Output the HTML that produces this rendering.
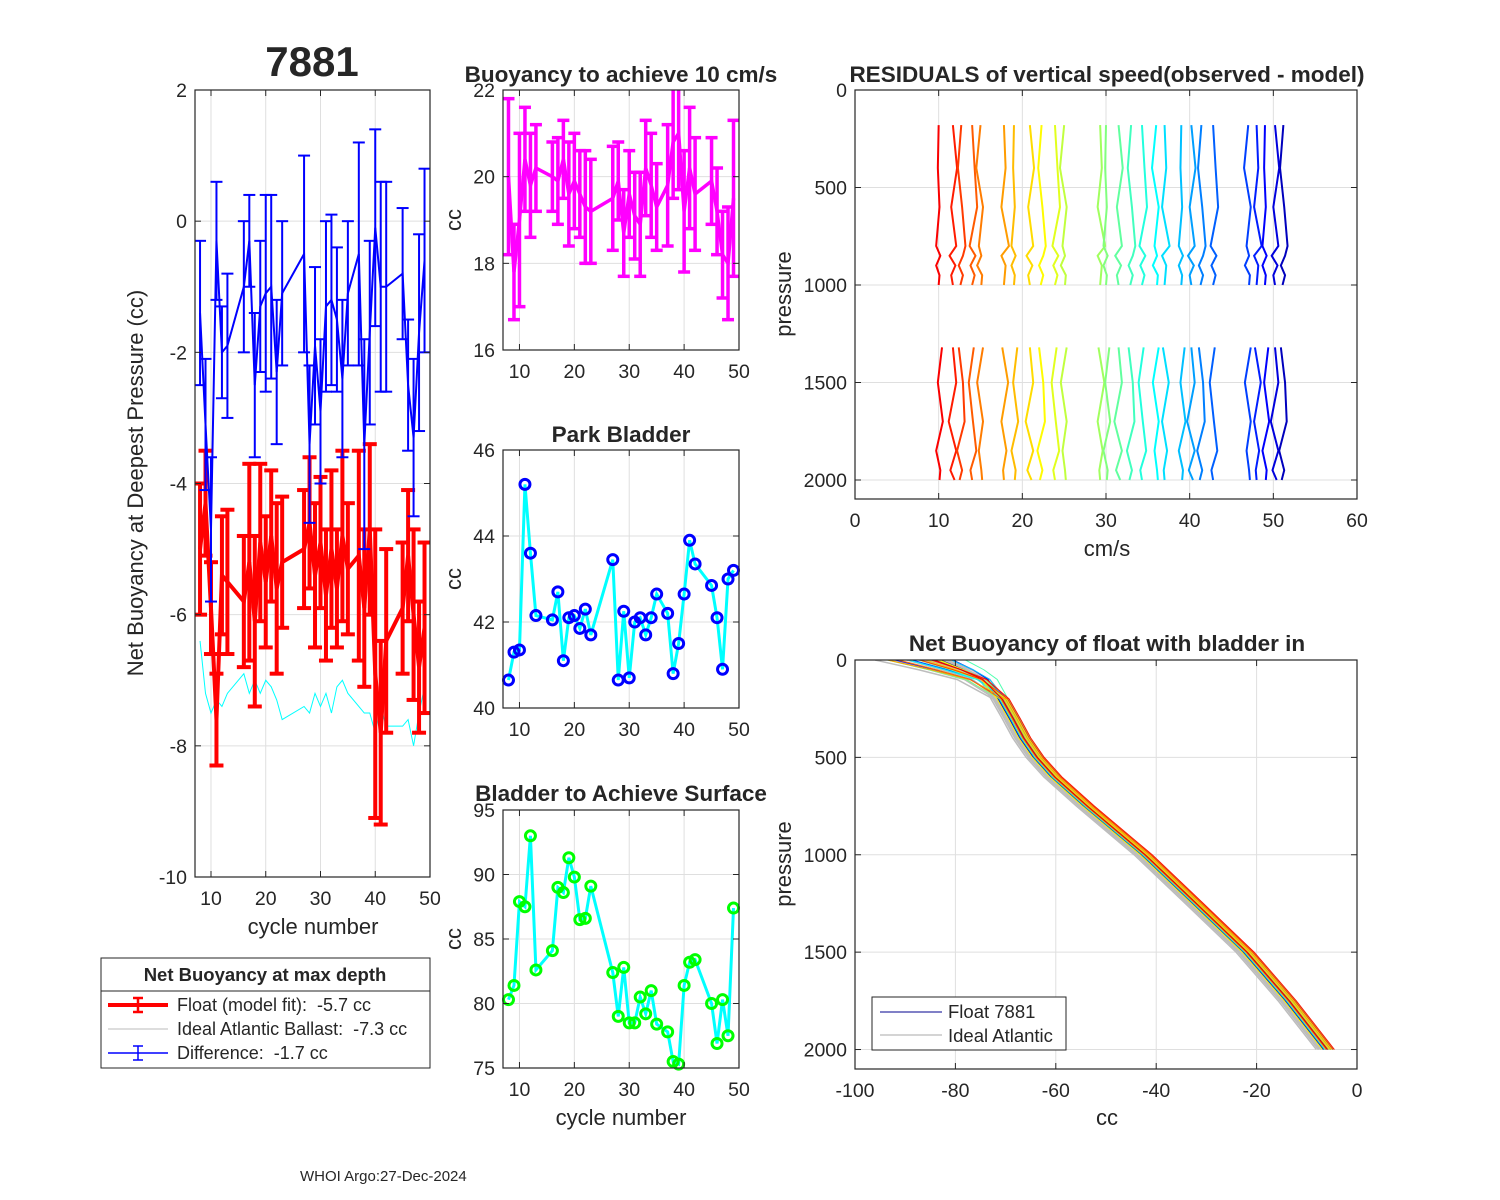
<!DOCTYPE html>
<html><head><meta charset="utf-8"><style>
body{margin:0;background:#fff}
svg{display:block}
text{font-family:"Liberation Sans",Arial,sans-serif;white-space:pre}
</style></head><body>
<svg id="s" width="1500" height="1200" viewBox="0 0 1500 1200" xmlns="http://www.w3.org/2000/svg"></svg>
<script>
// ---------- data ----------
const cycles=[8,9,10,11,12,13,16,17,18,19,20,21,22,23,27,28,29,30,31,32,33,34,35,37,38,39,40,41,42,45,46,47,48,49];
const floatFit=[-5.0,-4.3,-5.9,-7.6,-5.4,-5.5,-5.8,-5.2,-6.1,-4.9,-5.5,-4.8,-5.6,-5.2,-5.0,-4.6,-5.4,-4.9,-5.7,-5.0,-5.6,-4.8,-5.3,-5.1,-5.9,-4.7,-6.9,-7.8,-6.4,-5.9,-5.1,-6.0,-6.8,-6.2];
const floatErr=[1.0,0.8,0.7,0.7,0.9,1.1,1.0,1.5,1.3,1.2,1.0,1.0,1.3,1.0,0.9,1.0,1.1,1.0,1.0,1.2,0.9,1.3,1.0,1.6,1.2,1.3,2.2,1.4,1.4,1.0,1.0,1.3,1.0,1.3];
const diffVal=[-1.4,-3.1,-4.7,-0.3,-2.0,-1.9,-1.0,-0.3,-2.5,-1.3,-1.1,-1.0,-2.3,-1.1,-0.5,-3.4,-1.9,-2.9,-1.3,-1.2,-1.5,-2.4,-1.1,-0.5,-3.4,-1.7,-0.1,-1.0,-1.0,-0.8,-2.5,-3.3,-1.7,-0.6];
const diffErr=[1.1,1.0,1.1,0.9,0.7,1.1,1.0,0.7,1.1,1.0,1.5,1.4,1.1,1.1,1.5,1.2,1.2,1.1,1.3,1.3,1.1,1.2,1.1,1.7,1.6,1.4,1.5,1.6,1.6,1.0,1.0,1.2,1.5,1.4];
const idealVal=[-6.4,-7.2,-7.5,-7.3,-7.4,-7.2,-6.9,-7.2,-7.0,-7.2,-7.0,-7.1,-7.3,-7.6,-7.4,-7.5,-7.2,-7.4,-7.2,-7.5,-7.1,-7.0,-7.2,-7.4,-7.5,-7.5,-7.8,-7.4,-7.7,-7.7,-7.6,-8.0,-7.5,-7.1];
const buoy10=[20.0,17.8,19.0,20.4,19.8,20.2,20.0,19.9,20.4,19.6,19.9,19.6,19.3,19.2,19.5,19.9,18.7,19.6,19.1,18.9,20.2,19.8,19.3,19.8,20.8,21.0,19.2,20.2,19.6,19.9,19.2,18.2,18.0,19.5];
const buoy10Err=[1.8,1.1,2.0,1.2,1.2,1.0,0.8,1.0,0.9,1.2,1.1,1.0,1.3,1.2,1.2,0.9,1.0,1.0,1.0,1.2,1.1,1.2,1.0,1.4,1.3,1.3,1.4,1.4,1.3,1.0,1.0,1.0,1.3,1.8];
const parkBladder=[40.65,41.3,41.35,45.2,43.6,42.15,42.05,42.7,41.1,42.1,42.15,41.85,42.3,41.7,43.45,40.65,42.25,40.7,42.0,42.1,41.7,42.1,42.65,42.2,40.8,41.5,42.65,43.9,43.35,42.85,42.1,40.9,43.0,43.2];
const surfBladder=[80.3,81.4,87.9,87.5,93.0,82.6,84.1,89.0,88.6,91.3,89.8,86.5,86.6,89.1,82.4,79.0,82.8,78.5,78.5,80.5,79.2,81.0,78.4,77.8,75.5,75.3,81.4,83.2,83.4,80.0,76.9,80.3,77.5,87.4];
// residual profiles
const resCenters=[10,11.7,12.7,14,15,17.8,19,20.9,22.3,23.9,25,29.3,30,31.5,33,34.3,36,37,39,40.2,41.4,42.8,47,48,49,50.2,51.2];
const resTopP=[180,400,600,800,850,900,950,1000];
const resBotP=[1320,1500,1700,1850,1950,2000];
const wiggleTop=[[0,-0.1,0.1,-0.3,0.2,-0.3,0.1,0],[0,0.5,-0.2,0.4,-0.4,0.3,-0.2,0],[0,-0.4,0.1,0.5,0.2,-0.3,0.2,-0.1],[0,0.3,0.6,-0.3,0.4,-0.2,0.3,0],[0,-0.5,0.3,-0.2,0.1,-0.4,0.2,0.1],[0,0.2,-0.3,0.6,-0.3,0.2,0.1,0]];
const wiggleBot=[[0.3,-0.4,0.3,-0.2,0.1,0.2],[-0.2,0.5,-0.3,0.3,-0.1,0],[0.4,-0.1,0.5,-0.3,0.2,0.1],[0,0.4,-0.5,0.4,-0.3,0.2],[-0.3,0.2,0.4,-0.5,0.1,-0.2],[0.2,-0.4,0.1,0.5,-0.2,0]];
// net buoyancy profiles
const nbP=[0,50,100,200,300,400,500,600,750,1000,1250,1500,1750,2000];
const nbCC=[-86,-80,-75,-70.5,-68.3,-66.2,-63.5,-60,-53.5,-42,-31.8,-21.7,-13.3,-5.7];
const nbTopSpread=[-8,-5,-2,0,2,4,6,-6,-3,1,3,5,-4,-1,7,-7,2,-2,4,0];
const nbFloatShift=[-1,-0.5,0,0.4,0.8,-0.8,0.2,0.6,-0.3,1.0,-0.6,0.3,0.7,-1.2,0.1,0.5,-0.4,0.9,1.2,-0.2];
const nbIdealShift=[-2.0,-1.5,-1.0,-0.5,0,0.5,-1.8,-1.2,-0.7,-0.2,0.3,-0.9,-1.4,-0.1,-2.4];
// ---------- helpers ----------
const NS="http://www.w3.org/2000/svg";const S=document.getElementById('s');
function el(tag,attrs,parent){const e=document.createElementNS(NS,tag);for(const k in attrs)e.setAttribute(k,attrs[k]);(parent||S).appendChild(e);return e;}
function txt(x,y,s,size,anchor,weight,parent,rot){const t=el('text',{x:x,y:y,'font-size':size,'text-anchor':anchor||'middle','font-weight':weight||'normal',fill:'#262626'},parent);if(rot)t.setAttribute('transform','rotate(-90 '+x+' '+y+')');t.textContent=s;return t;}
function lin(d0,d1,p0,p1){return v=>p0+(v-d0)*(p1-p0)/(d1-d0);}
function jet(t){const r=Math.min(Math.max(1.5-Math.abs(4*t-3),0),1),g=Math.min(Math.max(1.5-Math.abs(4*t-2),0),1),b=Math.min(Math.max(1.5-Math.abs(4*t-1),0),1);return 'rgb('+Math.round(r*255)+','+Math.round(g*255)+','+Math.round(b*255)+')';}
const TK=19.5, TT=22.5, AX=22;
function axes(name,x0,y0,x1,y1,X,Y,xt,yt){
  const g=el('g',{});
  el('rect',{x:x0,y:y0,width:x1-x0,height:y1-y0,fill:'#fff'},g);
  xt.forEach(v=>{const x=X(v);el('line',{x1:x,y1:y0,x2:x,y2:y1,stroke:'#dfdfdf','stroke-width':1},g);});
  yt.forEach(v=>{const y=Y(v);el('line',{x1:x0,y1:y,x2:x1,y2:y,stroke:'#dfdfdf','stroke-width':1},g);});
  const gt=el('g',{});
  xt.forEach(v=>{const x=X(v);el('line',{x1:x,y1:y1,x2:x,y2:y1-6,stroke:'#262626'},gt);el('line',{x1:x,y1:y0,x2:x,y2:y0+6,stroke:'#262626'},gt);const t=txt(x,y1+28,String(v),TK,'middle','normal',gt);});
  yt.forEach(v=>{const y=Y(v);el('line',{x1:x0,y1:y,x2:x0+6,y2:y,stroke:'#262626'},gt);el('line',{x1:x1,y1:y,x2:x1-6,y2:y,stroke:'#262626'},gt);const t=txt(x0-8,y+7,String(v),TK,'end','normal',gt);});
  return {g,gt,box:()=>{S.appendChild(gt);el('rect',{x:x0,y:y0,width:x1-x0,height:y1-y0,fill:'none',stroke:'#262626','stroke-width':1.2},gt);}};
}
function errbar(parent,x,yc,ylo,yhi,color,w,cap){const g=el('g',{},parent);el('line',{x1:x,y1:ylo,x2:x,y2:yhi,stroke:color,'stroke-width':w},g);el('line',{x1:x-cap,y1:ylo,x2:x+cap,y2:ylo,stroke:color,'stroke-width':w},g);el('line',{x1:x-cap,y1:yhi,x2:x+cap,y2:yhi,stroke:color,'stroke-width':w},g);return g;}
function clip(id,x0,y0,x1,y1){const d=el('clipPath',{id:id});el('rect',{x:x0,y:y0,width:x1-x0,height:y1-y0},d);}
// ---------- panel A ----------
{const X=lin(7.08,50,195,430),Y=lin(2,-10,90,877);
 clip('cA',195,90,430,877);
 const a=axes('net-buoyancy-panel',195,90,430,877,X,Y,[10,20,30,40,50],[2,0,-2,-4,-6,-8,-10]);
 const p=el('g',{'clip-path':'url(#cA)'});
 const ideal=el('polyline',{points:cycles.map((c,i)=>X(c)+','+Y(idealVal[i])).join(' '),fill:'none',stroke:'#00ffff','stroke-width':1},p);
 
 const fl=el('polyline',{points:cycles.map((c,i)=>X(c)+','+Y(floatFit[i])).join(' '),fill:'none',stroke:'#ff0000','stroke-width':4},p);
 
 cycles.forEach((c,i)=>{const b=errbar(p,X(c),Y(floatFit[i]),Y(floatFit[i]-floatErr[i]),Y(floatFit[i]+floatErr[i]),'#ff0000',4,7);});
 const df=el('polyline',{points:cycles.map((c,i)=>X(c)+','+Y(diffVal[i])).join(' '),fill:'none',stroke:'#0000ff','stroke-width':2},p);
 
 cycles.forEach((c,i)=>{const b=errbar(p,X(c),Y(diffVal[i]),Y(diffVal[i]-diffErr[i]),Y(diffVal[i]+diffErr[i]),'#0000ff',2,6);});
 a.box();
 let t=txt(312,76,'7881',42,'middle','bold');
 t=txt(313,934,'cycle number',AX);
 t=txt(143,483,'Net Buoyancy at Deepest Pressure (cc)',AX,'middle','normal',null,true);
}
// legend A
{const g=el('g',{});
 el('rect',{x:101,y:958,width:329,height:110,fill:'#fff',stroke:'#262626','stroke-width':1},g);
 el('line',{x1:101,y1:991,x2:430,y2:991,stroke:'#262626'},g);
 txt(265,981,'Net Buoyancy at max depth',18.5,'middle','bold',g);
 const e1=el('g',{},g);
 el('line',{x1:108,y1:1005,x2:168,y2:1005,stroke:'#f00','stroke-width':4},e1);errbar(e1,138,1005,998,1012,'#f00',2.5,5);
 txt(177,1011,'Float (model fit):  -5.7 cc',18,'start','normal',e1);
 const e2=el('g',{},g);
 el('line',{x1:108,y1:1029,x2:168,y2:1029,stroke:'#bbb','stroke-width':1},e2);
 txt(177,1035,'Ideal Atlantic Ballast:  -7.3 cc',18,'start','normal',e2);
 const e3=el('g',{},g);
 el('line',{x1:108,y1:1053,x2:168,y2:1053,stroke:'#00f','stroke-width':1.5},e3);errbar(e3,138,1053,1046,1060,'#00f',1.5,5);
 txt(177,1059,'Difference:  -1.7 cc',18,'start','normal',e3);
}
// ---------- panel B ----------
{const X=lin(7,50,503,739),Y=lin(22,16,90,350);
 clip('cB',503,90,739,350);
 const a=axes('buoyancy-10cms-panel',503,90,739,350,X,Y,[10,20,30,40,50],[22,20,18,16]);
 const p=el('g',{'clip-path':'url(#cB)'});
 const l=el('polyline',{points:cycles.map((c,i)=>X(c)+','+Y(buoy10[i])).join(' '),fill:'none',stroke:'#ff00ff','stroke-width':3.5},p);
 
 cycles.forEach((c,i)=>{const b=errbar(p,X(c),Y(buoy10[i]),Y(buoy10[i]-buoy10Err[i]),Y(buoy10[i]+buoy10Err[i]),'#ff00ff',3.5,6);});
 a.box();
 let t=txt(621,82,'Buoyancy to achieve 10 cm/s',TT,'middle','bold');
 t=txt(461,220,'cc',AX,'middle','normal',null,true);
}
// ---------- panel C ----------
{const X=lin(7,50,503,739),Y=lin(46,40,450,708);
 const a=axes('park-bladder-panel',503,450,739,708,X,Y,[10,20,30,40,50],[46,44,42,40]);
 const l=el('polyline',{points:cycles.map((c,i)=>X(c)+','+Y(parkBladder[i])).join(' '),fill:'none',stroke:'#00ffff','stroke-width':3});
 
 cycles.forEach((c,i)=>{const m=el('circle',{cx:X(c),cy:Y(parkBladder[i]),r:5,fill:'none',stroke:'#0000ff','stroke-width':3});});
 a.box();
 let t=txt(621,442,'Park Bladder',TT,'middle','bold');
 t=txt(461,579,'cc',AX,'middle','normal',null,true);
}
// ---------- panel D ----------
{const X=lin(7,50,503,739),Y=lin(95,75,810,1068);
 const a=axes('surface-bladder-panel',503,810,739,1068,X,Y,[10,20,30,40,50],[95,90,85,80,75]);
 const l=el('polyline',{points:cycles.map((c,i)=>X(c)+','+Y(surfBladder[i])).join(' '),fill:'none',stroke:'#00ffff','stroke-width':3});
 
 cycles.forEach((c,i)=>{const m=el('circle',{cx:X(c),cy:Y(surfBladder[i]),r:5,fill:'none',stroke:'#00ff00','stroke-width':3});});
 a.box();
 let t=txt(621,801,'Bladder to Achieve Surface',TT,'middle','bold');
 t=txt(461,939,'cc',AX,'middle','normal',null,true);
 t=txt(621,1125,'cycle number',AX);
}
// ---------- residuals ----------
{const X=lin(0,60,855,1357),Y=lin(0,2100,90,499.5);
 const a=axes('residuals-panel',855,90,1357,499,X,Y,[0,10,20,30,40,50,60],[0,500,1000,1500,2000]);
 const n=resCenters.length;
 resCenters.forEach((c,i)=>{const col=jet(0.88-0.82*i/(n-1));const w1=wiggleTop[i%6],w2=wiggleBot[(i+2)%6];
  const l1=el('polyline',{points:resTopP.map((p,j)=>X(c+w1[j])+','+Y(p)).join(' '),fill:'none',stroke:col,'stroke-width':2});
  
  const l2=el('polyline',{points:resBotP.map((p,j)=>X(c+w2[j])+','+Y(p)).join(' '),fill:'none',stroke:col,'stroke-width':2});
  });
 a.box();
 let t=txt(1107,82,'RESIDUALS of vertical speed(observed - model)',TT,'middle','bold');
 t=txt(1107,556,'cm/s',AX);
 t=txt(791,294,'pressure',AX,'middle','normal',null,true);
}
// ---------- net buoyancy profiles ----------
{const X=lin(-100,0,855,1357),Y=lin(0,2100,660,1069);
 clip('cN',855,660,1357,1069);
 const a=axes('net-buoyancy-profile-panel',855,660,1357,1069,X,Y,[-100,-80,-60,-40,-20,0],[0,500,1000,1500,2000]);
 const p=el('g',{'clip-path':'url(#cN)'});
 function top(pp){return Math.max(0,1-pp/150);}
 nbIdealShift.forEach((s,i)=>{const ts=nbTopSpread[i];const l=el('polyline',{points:nbP.map((pp,j)=>X(nbCC[j]+s+ts*top(pp))+','+Y(pp)).join(' '),fill:'none',stroke:'#bdbdbd','stroke-width':1.5},p);});
 const n=nbFloatShift.length;
 nbFloatShift.forEach((s,i)=>{const ts=nbTopSpread[(i+5)%20];const l=el('polyline',{points:nbP.map((pp,j)=>X(nbCC[j]+s+ts*top(pp))+','+Y(pp)).join(' '),fill:'none',stroke:jet(0.05+0.85*i/(n-1)),'stroke-width':1},p);});
 a.box();
 let t=txt(1107,651,'Net Buoyancy of float with bladder in',TT,'middle','bold');
 t=txt(1107,1125,'cc',AX);
 t=txt(791,864,'pressure',AX,'middle','normal',null,true);
 const g=el('g',{});
 el('rect',{x:872,y:997,width:194,height:53,fill:'#fff',stroke:'#262626'},g);
 el('line',{x1:880,y1:1012,x2:942,y2:1012,stroke:'#00008f','stroke-width':1},g);
 txt(948,1018,'Float 7881',18.5,'start','normal',g);
 el('line',{x1:880,y1:1035,x2:942,y2:1035,stroke:'#aaa','stroke-width':1},g);
 txt(948,1042,'Ideal Atlantic',18.5,'start','normal',g);
}
{const t=txt(300,1181,'WHOI Argo:27-Dec-2024',15,'start');}
</script>
</body></html>
